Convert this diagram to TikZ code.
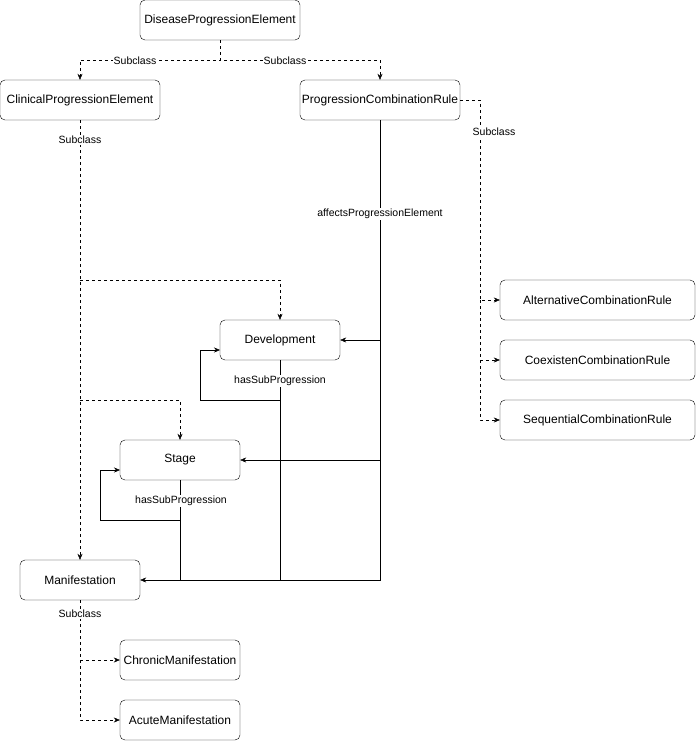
\documentclass[tikz,border=0pt]{standalone}
\usepackage{fontspec}
\setmainfont{Liberation Sans}
\usetikzlibrary{arrows.meta}
\begin{document}
\begin{tikzpicture}[x=1pt,y=-1pt,
  box/.style={draw,rounded corners=5pt,fill=white,font=\fontsize{12}{14}\selectfont,inner sep=0pt},
  sub/.style={draw,dashed,-{Stealth[length=6pt,width=5pt]}},
  rel/.style={draw,-{Stealth[length=6pt,width=5pt]}},
  lab/.style={fill=white,font=\fontsize{10.5}{12}\selectfont,inner sep=1pt}]
\useasboundingbox (0,0) rectangle (696,741);
\node[box,minimum width=160pt,minimum height=40pt] (dpe) at (220,20) {DiseaseProgressionElement};
\node[box,minimum width=160pt,minimum height=40pt] (cpe) at (80,100) {ClinicalProgressionElement};
\node[box,minimum width=160pt,minimum height=40pt] (pcr) at (380,100) {ProgressionCombinationRule};
\node[box,minimum width=120pt,minimum height=40pt] (dev) at (280,340) {Development};
\node[box,minimum width=120pt,minimum height=40pt] (stg) at (180,460) {Stage};
\node[box,minimum width=120pt,minimum height=40pt] (man) at (80,580) {Manifestation};
\node[box,minimum width=195pt,minimum height=40pt] (alt) at (597.5,300) {AlternativeCombinationRule};
\node[box,minimum width=195pt,minimum height=40pt] (coe) at (597.5,360) {CoexistenCombinationRule};
\node[box,minimum width=195pt,minimum height=40pt] (seq) at (597.5,420) {SequentialCombinationRule};
\node[box,minimum width=120pt,minimum height=40pt] (chr) at (180,660) {ChronicManifestation};
\node[box,minimum width=120pt,minimum height=40pt] (acu) at (180,720) {AcuteManifestation};
% subclass DPE
\draw[sub] (dpe.south) |- (80,60) -- (cpe.north);
\draw[sub] (dpe.south) |- (380,60) -- (pcr.north);
\node[lab] at (135,61) {Subclass};
\node[lab] at (285,61) {Subclass};
% PCR subclasses
\draw[sub] (pcr.east) -| (480,300) -- (alt.west);
\draw[sub] (480,300) |- (coe.west);
\draw[sub] (480,360) |- (seq.west);
\node[lab] at (494,132) {Subclass};
% CPE subclasses
\draw[sub] (cpe.south) -- (man.north);
\draw[sub] (80,280) -| (dev.north);
\draw[sub] (80,400) -| (stg.north);
\node[lab] at (80,140) {Subclass};
% affects
\draw[rel] (pcr.south) |- (man.east);
\draw[rel] (380,340) -- (dev.east);
\draw[rel] (380,460) -- (stg.east);
\node[lab] at (380,214) {affectsProgressionElement};
% hasSubProgression
\draw (dev.south) -- (280,580);
\draw[rel] (280,400) -| (200,350) -- (220,350);
\node[lab] at (280,381) {hasSubProgression};
\draw (stg.south) -- (180,580);
\draw[rel] (180,520) -| (100,470) -- (120,470);
\node[lab] at (181,501) {hasSubProgression};
% manifestation subclasses
\draw[sub] (man.south) |- (chr.west);
\draw[sub] (80,660) |- (acu.west);
\node[lab] at (80,614) {Subclass};
\end{tikzpicture}
\end{document}
